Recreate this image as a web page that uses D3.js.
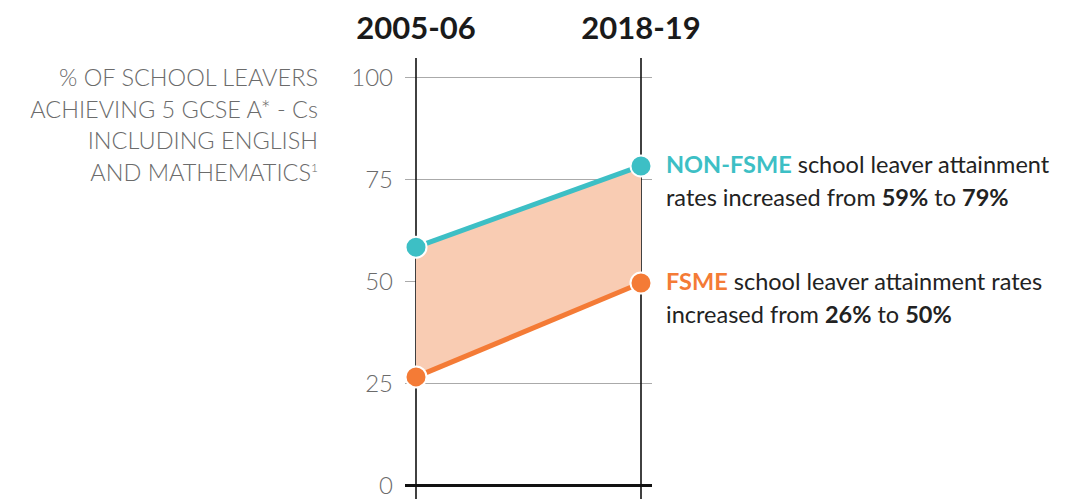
<!DOCTYPE html>
<html>
<head>
<meta charset="utf-8">
<script src="https://cdn.jsdelivr.net/npm/d3@7"></script>
<style>
  body { margin: 0; background: #fff; }
  text { font-family: Lato, "Noto Sans", sans-serif; }
</style>
</head>
<body>
<div id="chart"></div>
<script>
var years = ["2005-06", "2018-19"];
var nonFsme = [58.3, 78.2];
var fsme = [26.5, 49.5];
var yTicks = [0, 25, 50, 75, 100];
var titleLines = ["% OF SCHOOL LEAVERS", "ACHIEVING 5 GCSE A* - Cs", "INCLUDING ENGLISH", "AND MATHEMATICS"];

var teal = "#3dbfc5", orange = "#f47b36", band = "#f9ccb3";

var W = 1068, H = 499;
var svg = d3.select("#chart").append("svg")
  .attr("width", W).attr("height", H);

var x = d3.scalePoint().domain(years).range([416, 641]);
var y = d3.scaleLinear().domain([0, 100]).range([485, 77]);

// grid lines + tick labels
var yAxis = svg.append("g")
  .attr("transform", "translate(405,0)")
  .call(d3.axisLeft(y).tickValues(yTicks).tickSize(-247).tickPadding(12));
yAxis.select(".domain").remove();
yAxis.selectAll(".tick line").attr("stroke", "#aaa").attr("stroke-width", 1.2);
yAxis.selectAll(".tick").filter(function(d) { return d === 0; })
  .select("line").attr("stroke", "#111").attr("stroke-width", 3);
yAxis.selectAll(".tick text")
  .attr("fill", "#6b6b6b").style("font-size", "24px").style("font-weight", 300)
  .attr("dy", "0.36em");

// vertical year lines
svg.selectAll(".vline").data(years).enter().append("line")
  .attr("x1", function(d) { return x(d); }).attr("x2", function(d) { return x(d); })
  .attr("y1", 58).attr("y2", H)
  .attr("stroke", "#111").attr("stroke-width", 1.6);

// year headers
svg.selectAll(".yr").data(years).enter().append("text")
  .attr("x", function(d) { return x(d); }).attr("y", 39)
  .attr("text-anchor", "middle")
  .style("font-size", "31px").style("font-weight", "bold")
  .attr("fill", "#1a1a1a")
  .text(function(d) { return d; });

// shaded band between the two series
var pts = years.map(function(d, i) { return {yr: d, hi: nonFsme[i], lo: fsme[i]}; });
svg.append("path").datum(pts)
  .attr("fill", band)
  .attr("d", d3.area()
    .x(function(d) { return x(d.yr); })
    .y0(function(d) { return y(d.lo); })
    .y1(function(d) { return y(d.hi); }));

// lines + dots
[[nonFsme, teal], [fsme, orange]].forEach(function(s) {
  var data = years.map(function(d, i) { return [d, s[0][i]]; });
  svg.append("path").datum(data)
    .attr("fill", "none").attr("stroke", s[1]).attr("stroke-width", 5)
    .attr("d", d3.line()
      .x(function(d) { return x(d[0]); })
      .y(function(d) { return y(d[1]); }));
  svg.selectAll(null).data(data).enter().append("circle")
    .attr("cx", function(d) { return x(d[0]); })
    .attr("cy", function(d) { return y(d[1]); })
    .attr("r", 10.5)
    .attr("fill", s[1]).attr("stroke", "#fff").attr("stroke-width", 2);
});

// y title
var title = svg.append("text")
  .attr("text-anchor", "end")
  .attr("fill", "#6b6b6b")
  .style("font-size", "23.5px").style("font-weight", 300);
titleLines.forEach(function(l, i) {
  title.append("tspan").attr("x", 318).attr("y", 86 + i * 31.5).text(l);
  if (i === titleLines.length - 1) {
    title.append("tspan").attr("dy", -9).style("font-size", "12px").text("1");
  }
});

// annotations
var notes = [
  {v: nonFsme[1], c: teal, lines: [[["NON-FSME", "b", teal], [" school leaver attainment", "n"]],
                                   [["rates increased from ", "n"], ["59%", "b"], [" to ", "n"], ["79%", "b"]]]},
  {v: fsme[1], c: orange, lines: [[["FSME", "b", orange], [" school leaver attainment rates", "n"]],
                                  [["increased from ", "n"], ["26%", "b"], [" to ", "n"], ["50%", "b"]]]}
];
notes.forEach(function(n) {
  n.lines.forEach(function(line, li) {
    var t = svg.append("text")
      .attr("x", 666).attr("y", y(n.v) + 7 + li * 33)
      .attr("fill", "#222").style("font-size", "23.5px");
    line.forEach(function(seg) {
      t.append("tspan")
        .style("font-weight", seg[1] === "b" ? "bold" : "normal")
        .attr("fill", seg[2] || "#222")
        .text(seg[0]);
    });
  });
});
</script>
</body>
</html>
